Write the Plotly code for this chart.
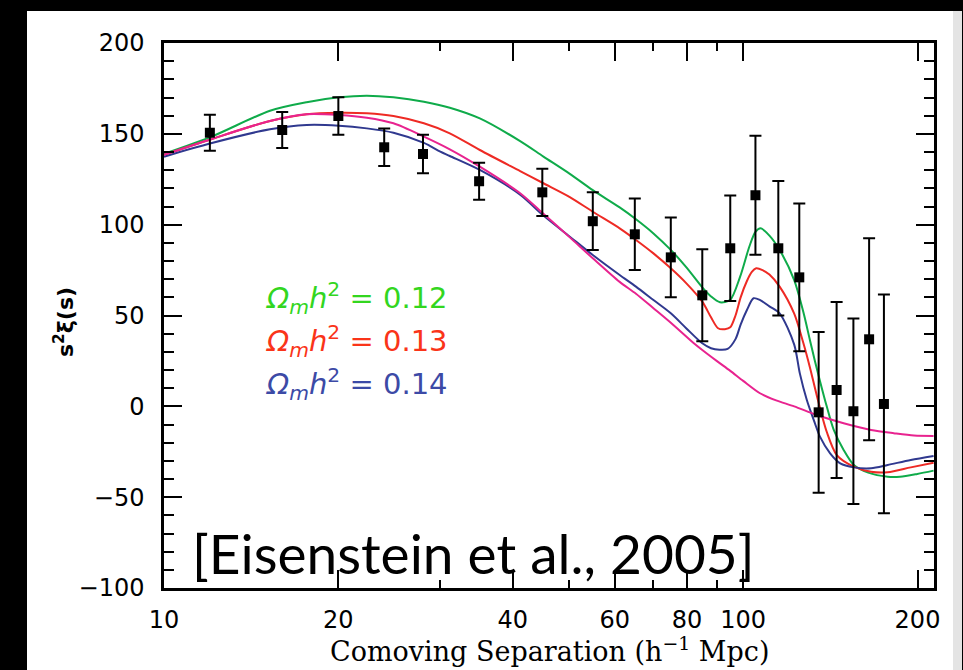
import plotly.graph_objects as go

# --- measured correlation function points (s in h^-1 Mpc, s^2 xi, 1-sigma) ---
sep_pts = [12, 16, 20, 24, 28, 35, 45, 55, 65, 75, 85, 95, 105, 115, 125, 135, 145, 155, 165, 175]
xi_pts = [150.6, 152.1, 159.8, 142.6, 138.9, 123.9, 117.8, 101.9, 94.7, 82.0,
          61.1, 87.0, 116.2, 87.0, 71.0, -3.3, 9.0, -2.7, 36.9, 1.3]
xi_err = [9.9, 9.9, 10.3, 10.3, 10.6, 10.2, 13.0, 15.9, 19.7, 22.0,
          25.3, 29.0, 32.7, 37.0, 40.7, 44.2, 48.5, 51.0, 55.6, 60.2]

# --- model curves ---
green_s = [10, 12.05, 15.24, 17.63, 20.05, 22.4, 24.9, 28.1, 31.15, 35.1, 41.2, 45.2, 50.2,
           55.0, 61.2, 65.3, 70.0, 75.0, 79.8, 85.0, 88.0, 91.2, 94.9, 98.8, 102.5, 105.0,
           107.2, 111.0, 115.6, 122.5, 127.0, 130.5, 133.0, 135.7, 139.4, 143.3, 149.1,
           155.3, 164.4, 177.6, 186.6, 199.8, 213.2]
green_v = [139.0, 148.3, 162.7, 167.4, 170.1, 171.0, 170.1, 167.7, 164.4, 158.5, 146.0, 137.5,
           128.0, 119.0, 109.5, 103.0, 95.2, 86.1, 76.5, 65.5, 60.5, 57.3, 58.5, 71.4, 88.0,
           96.0, 98.0, 94.0, 86.1, 69.5, 52.0, 36.0, 25.0, 14.0, 0.0, -12.8, -24.0, -32.3,
           -36.5, -38.7, -38.7, -37.2, -35.4]

red_s = [10, 12.05, 15.24, 17.63, 20.05, 22.4, 24.9, 28.1, 31.15, 35.1, 41.2, 45.2, 50.2,
         55.0, 61.2, 65.3, 70.0, 75.0, 79.8, 85.0, 88.0, 90.5, 93.0, 95.0, 97.0, 99.0,
         101.5, 103.5, 105.3, 108.0, 111.0, 115.6, 122.5, 127.0, 130.5, 134.0, 139.4,
         145.1, 155.3, 166.3, 177.6, 194.7, 213.2]
red_v = [138.4, 147.0, 157.1, 160.8, 161.6, 161.3, 159.8, 155.8, 150.3, 141.1, 129.5, 122.8,
         115.2, 107.1, 98.0, 91.6, 84.2, 76.0, 67.7, 57.6, 49.0, 43.0, 42.5, 43.5, 50.0,
         60.0, 69.0, 74.0, 76.0, 75.0, 72.5, 65.9, 51.0, 35.0, 21.0, 6.0, -14.0, -26.8,
         -33.2, -36.0, -36.3, -33.6, -31.0]

blue_s = [10, 12.05, 15.24, 17.63, 20.05, 22.4, 24.9, 28.1, 30.0, 31.15, 35.1, 41.2, 45.2,
          50.2, 55.0, 61.2, 65.3, 70.0, 75.0, 79.8, 85.0, 88.0, 91.0, 94.0, 97.0, 99.0,
          101.5, 104.2, 107.0, 111.0, 115.6, 122.5, 125.3, 128.8, 133.0, 135.7, 141.3,
          147.1, 155.3, 166.3, 177.6, 194.7, 213.2]
blue_v = [137.4, 144.8, 152.5, 154.9, 154.5, 153.0, 150.6, 145.0, 140.2, 137.8, 130.1, 116.5,
          105.0, 93.4, 83.3, 72.3, 65.9, 58.5, 51.2, 42.9, 34.7, 32.0, 31.2, 31.6, 37.0,
          45.0, 53.0, 59.5, 58.5, 55.0, 51.2, 34.0, 18.0, 3.5, -9.3, -16.7, -25.9, -31.4,
          -33.6, -34.1, -32.3, -29.5, -27.3]

pink_s = [10, 12.05, 15.24, 17.63, 20.05, 22.4, 24.9, 28.1, 31.15, 35.1, 41.2, 45.2, 50.2,
          55.0, 61.2, 65.3, 70.0, 75.0, 82.0, 85.0, 90.0, 95.0, 100.0, 106.9, 114.0, 122.5,
          134.0, 149.1, 166.3, 182.0, 197.2, 213.2]
pink_v = [138.4, 147.0, 157.1, 160.8, 160.4, 158.9, 155.8, 148.5, 141.5, 131.9, 117.3, 106.0,
          93.0, 81.5, 68.5, 62.0, 54.0, 46.0, 35.0, 31.0, 25.0, 19.5, 14.0, 7.2, 3.3, 0.0,
          -4.8, -9.3, -13.0, -14.8, -16.1, -16.3]

# tick values
x_major = [10, 20, 40, 60, 80, 100, 200]
x_minor = [30, 50, 70, 90]
y_major = [-100, -50, 0, 50, 100, 150, 200]
y_minor = [v for v in range(-90, 200, 10) if v % 50 != 0]

# labels for the three models
model_labels = ["0.12", "0.13", "0.14"]
label_colors = ["#33d61f", "#fa3419", "#3c4aa6"]

X_RANGE = [1, 2.3295]
Y_RANGE = [-100, 200]

fig = go.Figure()

curves = [
    (green_s, green_v, "#0fab4a"),
    (red_s, red_v, "#ee2a24"),
    (blue_s, blue_v, "#30398f"),
    (pink_s, pink_v, "#e8238f"),
]
for xs, ys, col in curves:
    fig.add_trace(go.Scatter(
        x=xs, y=ys, mode="lines",
        line=dict(color=col, width=2, shape="spline", smoothing=0.8),
        hoverinfo="skip", showlegend=False,
    ))

fig.add_trace(go.Scatter(
    x=sep_pts, y=xi_pts, mode="markers",
    marker=dict(symbol="square", size=10, color="black"),
    error_y=dict(type="data", array=xi_err, visible=True, color="black",
                 thickness=2, width=6),
    showlegend=False,
))

# invisible trace on the secondary axes so they are drawn
fig.add_trace(go.Scatter(x=[10], y=[0], xaxis="x2", yaxis="y2", mode="markers",
                         marker=dict(opacity=0), hoverinfo="skip", showlegend=False))

L, R, T, B = 164, 29, 43, 82
W, H = 963, 670
pw, ph = W - L - R, H - T - B


def px_x(px):
    return (px - L) / pw


def px_y(py):
    return (H - B - py) / ph


shapes = [
    dict(type="rect", xref="paper", yref="paper", layer="below",
         x0=px_x(27), x1=px_x(953), y0=px_y(672), y1=px_y(11),
         fillcolor="white", line=dict(width=0)),
    dict(type="rect", xref="paper", yref="paper", layer="below",
         x0=px_x(953), x1=px_x(962), y0=px_y(672), y1=px_y(11),
         fillcolor="#e4e4e4", line=dict(width=0)),
]

annotations = []
for i, (val, col) in enumerate(zip(model_labels, label_colors)):
    annotations.append(dict(
        xref="paper", yref="paper", x=px_x(264), y=px_y(298 + 43 * i),
        xanchor="left", yanchor="middle", showarrow=False,
        text="<i>\u03a9<sub>m</sub>h</i><sup>2</sup> = " + val,
        font=dict(family="DejaVu Sans", size=29, color=col),
    ))

annotations.append(dict(
    xref="paper", yref="paper", x=px_x(190), y=px_y(553),
    xanchor="left", yanchor="middle", showarrow=False,
    text="[Eisenstein et al., 2005]",
    font=dict(family="Lato", size=55, color="black"),
))
annotations.append(dict(
    xref="paper", yref="paper", x=0.5, y=px_y(649),
    xanchor="center", yanchor="middle", showarrow=False,
    text="Comoving Separation (h<sup>\u22121</sup> Mpc)",
    font=dict(family="DejaVu Serif", size=27, color="black"),
))
annotations.append(dict(
    xref="paper", yref="paper", x=px_x(64), y=px_y(322),
    xanchor="center", yanchor="middle", showarrow=False, textangle=-90,
    text="<b>s<sup>2</sup>\u03be(s)</b>",
    font=dict(family="DejaVu Sans", size=22, color="black"),
))

axis_common = dict(
    ticks="inside", tickwidth=2, tickcolor="black",
    showline=True, linewidth=2.5, linecolor="black", mirror="allticks",
    showgrid=False, zeroline=False,
)

fig.update_layout(
    width=W, height=H,
    margin=dict(l=L, r=R, t=T, b=B, autoexpand=False),
    paper_bgcolor="black", plot_bgcolor="white",
    shapes=shapes, annotations=annotations,
    xaxis=dict(
        type="log", range=X_RANGE,
        tickmode="array", tickvals=x_major, ticktext=[str(v) for v in x_major],
        ticklen=18,
        tickfont=dict(family="DejaVu Sans", size=24, color="black"),
        ticklabelstandoff=8,
        **axis_common,
    ),
    yaxis=dict(
        range=Y_RANGE,
        tickmode="array", tickvals=y_major,
        ticklen=18,
        tickfont=dict(family="DejaVu Sans", size=24, color="black"),
        ticklabelstandoff=12,
        **axis_common,
    ),
    # short ticks on overlaid axes
    xaxis2=dict(
        type="log", range=X_RANGE, overlaying="x", anchor="y2",
        tickmode="array", tickvals=x_minor, ticklen=8, showticklabels=False,
        **axis_common,
    ),
    yaxis2=dict(
        range=Y_RANGE, overlaying="y", anchor="x2",
        tickmode="array", tickvals=y_minor, ticklen=10, showticklabels=False,
        **axis_common,
    ),
)

fig.write_html("out.html")
